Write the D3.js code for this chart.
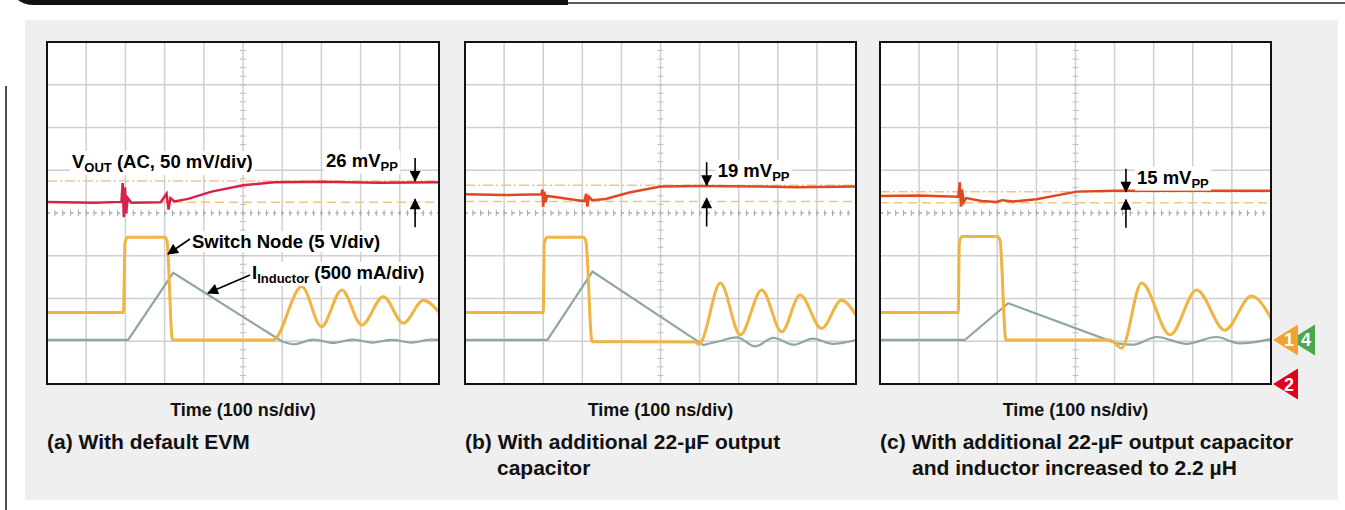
<!DOCTYPE html>
<html>
<head>
<meta charset="utf-8">
<script src="https://cdn.jsdelivr.net/npm/d3@7"></script>
<style>
  body { margin: 0; background: #fff; }
  svg text { font-family: "Liberation Sans", Arial, sans-serif; font-weight: bold; }
</style>
</head>
<body>
<svg id="chart" width="1345" height="510"></svg>
<script>
// scope grid: 10 time divisions, 8 vertical divisions
let timeDivs = d3.range(0, 11);
let voltDivs = d3.range(0, 9);
let minorDivs = d3.range(0, 10.01, 0.2);
let minorVDivs = d3.range(0, 8.01, 0.2);

// traces, [time div, level div]
let switchA = [[0,1.67],[1.95,1.67],[1.99,3.3],[2.05,3.43],[3.0,3.43],[3.06,3.35],[3.2,1.03],[5.77,1.03],[6.5,2.28],[7.0,1.34],[7.52,2.2],[8.03,1.38],[8.58,2.04],[9.09,1.42],[9.6,1.96],[10,1.68]];
let switchB = [[0,1.67],[2.0,1.67],[2.03,3.3],[2.1,3.43],[3.02,3.43],[3.09,3.35],[3.25,0.99],[5.9,0.98],[5.97,0.93],[6.05,1.0],[6.53,2.36],[7.04,1.15],[7.59,2.2],[8.1,1.22],[8.57,2.08],[9.12,1.3],[9.63,1.96],[10,1.61]];
let switchC = [[0,1.67],[2.0,1.67],[2.03,3.3],[2.1,3.45],[3.0,3.45],[3.07,3.35],[3.22,1.03],[5.88,1.03],[6.18,0.84],[6.69,2.36],[7.42,1.15],[8.1,2.2],[8.82,1.26],[9.5,2.06],[10,1.54]];

// inductor current: flat, ramp up, ramp down, then ringing (ramp ends at index 3)
let inductorA = [[0,1.03],[2.07,1.03],[3.22,2.6],[5.99,1.0],[6.3,0.93],[6.8,1.04],[7.3,0.96],[7.8,1.04],[8.3,0.97],[8.8,1.03],[9.3,0.97],[9.8,1.04],[10,1.03]];
let inductorB = [[0,1.03],[2.11,1.03],[3.26,2.63],[6.1,0.91],[6.5,1.0],[6.96,1.09],[7.42,0.88],[7.89,1.08],[8.4,0.92],[8.9,1.06],[9.4,0.94],[10,1.03]];
let inductorC = [[0,1.03],[2.17,1.03],[3.28,1.89],[6.05,0.95],[6.48,0.92],[7.08,1.1],[7.84,0.94],[8.6,1.1],[9.2,0.95],[10,1.05]];
let rampEnd = 3;

let voutA = [[0,4.26],[1.2,4.24],[1.9,4.26],[1.93,4.7],[1.96,3.9],[1.99,4.6],[2.02,4.0],[2.06,4.35],[2.15,4.24],[2.9,4.25],[3.05,4.45],[3.1,4.08],[3.15,4.35],[3.25,4.27],[3.6,4.33],[4.2,4.5],[5.0,4.65],[5.8,4.72],[7.0,4.73],[8.5,4.71],[10,4.72]];
let voutB = [[0,4.44],[1.0,4.42],[1.95,4.44],[1.98,4.55],[2.0,4.15],[2.03,4.5],[2.06,4.25],[2.1,4.4],[2.4,4.36],[2.87,4.3],[3.05,4.28],[3.1,4.45],[3.13,4.15],[3.17,4.38],[3.25,4.3],[3.6,4.33],[4.2,4.48],[5.0,4.62],[6.0,4.63],[7.5,4.62],[8.5,4.6],[10,4.62]];
let voutC = [[0,4.4],[1.0,4.41],[2.0,4.38],[2.04,4.72],[2.07,4.15],[2.1,4.55],[2.14,4.25],[2.2,4.35],[2.6,4.28],[2.98,4.26],[3.12,4.3],[3.4,4.27],[4.0,4.32],[5.03,4.5],[6.0,4.52],[8.0,4.52],[10,4.52]];

// ripple cursors [top, bottom] and the peak-to-peak labels
let cursorsA = [4.75, 4.25];
let cursorsB = [4.65, 4.27];
let cursorsC = [4.5, 4.24];
let rippleLabels = ["26", "19", "15"];
let arrowDivs = [9.39, 6.18, 6.29];

let timeLabel = "Time (100 ns/div)";
let captions = [
  ["(a) With default EVM"],
  ["(b) With additional 22-\u00b5F output", "capacitor"],
  ["(c) With additional 22-\u00b5F output capacitor", "and inductor increased to 2.2 \u00b5H"]
];

// channel markers at right of last panel
let channels = [
  {name: "4", level: 1.03, color: "#4aa84a", shift: 17},
  {name: "1", level: 1.03, color: "#f2a230", shift: 0},
  {name: "2", level: 0, color: "#e3001b", shift: 0}
];

let svg = d3.select("#chart");

// header decoration
svg.append("path").attr("d", "M18,0 Q24,5 34,5 L568,5 L568,0 Z").attr("fill", "#111");
svg.append("line").attr("x1", 568).attr("x2", 1345).attr("y1", 3).attr("y2", 3)
  .attr("stroke", "#222").attr("stroke-width", 1.3);
svg.append("rect").attr("x", 25).attr("y", 20).attr("width", 1313).attr("height", 480).attr("fill", "#efefef");
svg.append("line").attr("x1", 6).attr("x2", 6).attr("y1", 86).attr("y2", 510)
  .attr("stroke", "#111").attr("stroke-width", 1.5);

let defs = svg.append("defs");
defs.append("marker").attr("id", "head").attr("viewBox", "0 0 10 10")
  .attr("refX", 9).attr("refY", 5).attr("markerWidth", 12).attr("markerHeight", 11)
  .attr("markerUnits", "userSpaceOnUse").attr("orient", "auto")
  .append("path").attr("d", "M0,0 L10,5 L0,10 Z").attr("fill", "#000");

let panels = [
  {left: 47, right: 439, sw: switchA, ind: inductorA, vout: voutA, cur: cursorsA, red: "#d7224c"},
  {left: 465, right: 856, sw: switchB, ind: inductorB, vout: voutB, cur: cursorsB, red: "#e2481f"},
  {left: 880, right: 1271, sw: switchC, ind: inductorC, vout: voutC, cur: cursorsC, red: "#e2481f"}
];
let plotTop = 42, plotBottom = 384;

panels.forEach(function(p, i) {
  let x = d3.scaleLinear().domain([0, 10]).range([p.left, p.right]);
  let y = d3.scaleLinear().domain([0, 8]).range([plotBottom, plotTop]);
  let g = svg.append("g");

  g.append("rect").attr("x", p.left).attr("y", plotTop)
    .attr("width", p.right - p.left).attr("height", plotBottom - plotTop).attr("fill", "#fff");

  // grid
  g.selectAll(".vg").data(timeDivs.slice(1, -1)).enter().append("line")
    .attr("x1", x).attr("x2", x).attr("y1", plotTop).attr("y2", plotBottom)
    .attr("stroke", "#cfcfcf").attr("stroke-width", 1.5);
  g.selectAll(".hg").data(voltDivs.slice(1, -1).filter(d => d != 4)).enter().append("line")
    .attr("x1", p.left).attr("x2", p.right).attr("y1", y).attr("y2", y)
    .attr("stroke", "#cfcfcf").attr("stroke-width", 1.5);
  // centre horizontal, dotted with ticks
  g.append("line").attr("x1", p.left).attr("x2", p.right).attr("y1", y(4)).attr("y2", y(4))
    .attr("stroke", "#a3acb5").attr("stroke-width", 1.3).attr("stroke-dasharray", "3,4.8");
  g.selectAll(".ht").data(minorDivs).enter().append("line")
    .attr("x1", x).attr("x2", x).attr("y1", y(4) - 3).attr("y2", y(4) + 3)
    .attr("stroke", "#a3acb5").attr("stroke-width", 1);
  // centre vertical ticks
  g.selectAll(".vt").data(minorVDivs).enter().append("line")
    .attr("x1", x(5) - 3).attr("x2", x(5) + 3).attr("y1", y).attr("y2", y)
    .attr("stroke", "#bdbdbd").attr("stroke-width", 1);

  // cursors
  g.append("line").attr("x1", p.left).attr("x2", p.right).attr("y1", y(p.cur[0])).attr("y2", y(p.cur[0]))
    .attr("stroke", "#f3c486").attr("stroke-width", 1.5).attr("stroke-dasharray", "10,3,2,3");
  g.append("line").attr("x1", p.left).attr("x2", p.right).attr("y1", y(p.cur[1])).attr("y2", y(p.cur[1]))
    .attr("stroke", "#f3c486").attr("stroke-width", 1.5).attr("stroke-dasharray", "9,5");

  let smooth = d3.line().x(d => x(d[0])).y(d => y(d[1])).curve(d3.curveMonotoneX);
  let straight = d3.line().x(d => x(d[0])).y(d => y(d[1]));

  g.append("path").attr("d", straight(p.ind.slice(0, rampEnd + 1)) + smooth(p.ind.slice(rampEnd)).replace(/^M/, "L"))
    .attr("fill", "none").attr("stroke", "#8fa79d").attr("stroke-width", 2.2);
  g.append("path").attr("d", smooth(p.sw)).attr("fill", "none")
    .attr("stroke", "#f1b443").attr("stroke-width", 3);
  g.append("path").attr("d", straight(p.vout)).attr("fill", "none")
    .attr("stroke", p.red).attr("stroke-width", 2.5);

  // frame
  g.append("rect").attr("x", p.left).attr("y", plotTop)
    .attr("width", p.right - p.left).attr("height", plotBottom - plotTop)
    .attr("fill", "none").attr("stroke", "#111").attr("stroke-width", 2);

  // ripple label and arrows
  let ax = x(arrowDivs[i]);
  let lab;
  if (i == 0) {
    lab = g.append("text").attr("x", ax - 89).attr("y", y(p.cur[0]) - 14).attr("font-size", 18.5);
  } else {
    lab = g.append("text").attr("x", ax + 11).attr("y", y(p.cur[0]) - 8).attr("font-size", 18.5);
  }
  lab.append("tspan").text(rippleLabels[i] + " mV");
  lab.append("tspan").attr("font-size", 13).attr("dy", 4).text("PP");
  let bb = lab.node().getBBox();
  g.insert("rect", "text").attr("x", bb.x - 2).attr("y", bb.y).attr("width", bb.width + 4)
    .attr("height", bb.height).attr("fill", "#fff");

  g.append("line").attr("x1", ax).attr("x2", ax).attr("y1", y(p.cur[0]) - 23).attr("y2", y(p.cur[0]))
    .attr("stroke", "#000").attr("stroke-width", 1.6).attr("marker-end", "url(#head)");
  g.append("line").attr("x1", ax).attr("x2", ax).attr("y1", y(p.cur[1]) + 25).attr("y2", y(p.cur[1]) - 3)
    .attr("stroke", "#000").attr("stroke-width", 1.6).attr("marker-end", "url(#head)");

  // bottom labels
  svg.append("text").attr("x", (p.left + p.right) / 2).attr("y", 416)
    .attr("text-anchor", "middle").attr("font-size", 18).attr("fill", "#111").text(timeLabel);
  captions[i].forEach(function(c, j) {
    svg.append("text").attr("x", p.left + (j ? 32 : 0)).attr("y", 449 + j * 26)
      .attr("font-size", 21).attr("fill", "#111").text(c);
  });

  p.x = x; p.y = y;
});

// trace labels on first panel
function label(xp, yp, main, sub, rest) {
  let t = svg.append("text").attr("x", xp).attr("y", yp).attr("font-size", 18.5);
  t.append("tspan").text(main);
  if (sub) t.append("tspan").attr("font-size", 13).attr("dy", 4).text(sub);
  t.append("tspan").attr("dy", sub ? -4 : 0).text(rest);
  let bb = t.node().getBBox();
  svg.insert("rect", function() { return t.node(); })
    .attr("x", bb.x - 2).attr("y", bb.y).attr("width", bb.width + 4).attr("height", bb.height).attr("fill", "#fff");
}
label(72, 168, "V", "OUT", " (AC, 50 mV/div)");
label(192, 248, "Switch Node", null, " (5 V/div)");
label(252, 279, "I", "Inductor", " (500 mA/div)");

svg.append("line").attr("x1", 190).attr("y1", 239).attr("x2", 168).attr("y2", 254)
  .attr("stroke", "#000").attr("stroke-width", 1.6).attr("marker-end", "url(#head)");
svg.append("line").attr("x1", 250).attr("y1", 275).attr("x2", 208).attr("y2", 293)
  .attr("stroke", "#000").attr("stroke-width", 1.6).attr("marker-end", "url(#head)");

// channel markers
let pc = panels[2];
channels.forEach(function(c) {
  let tx = pc.right + 2 + c.shift, ty = pc.y(c.level);
  svg.append("path")
    .attr("d", "M" + tx + "," + ty + " L" + (tx + 25) + "," + (ty - 15.5) + " L" + (tx + 25) + "," + (ty + 15.5) + " Z")
    .attr("fill", c.color);
  svg.append("text").attr("x", tx + 16).attr("y", ty + 6.5).attr("text-anchor", "middle")
    .attr("font-size", 18).attr("fill", "#fff").text(c.name);
});
</script>
</body>
</html>
